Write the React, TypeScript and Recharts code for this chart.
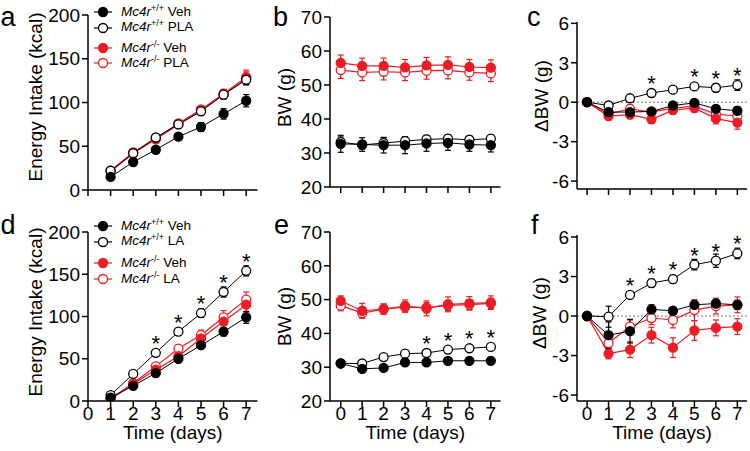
import React from "react";
import { LineChart, Line, XAxis, YAxis, ErrorBar, ReferenceLine } from "recharts";

const RED = "#ed1c24";
const FONT = '"Liberation Sans", Arial, Helvetica, sans-serif';

// x values
const DAYS_INTAKE = [1, 2, 3, 4, 5, 6, 7];
const DAYS_BW = [0, 1, 2, 3, 4, 5, 6, 7];
const X_TICKS = [0, 1, 2, 3, 4, 5, 6, 7];

// y ticks
const INTAKE_TICKS = [0, 50, 100, 150, 200];
const BW_TICKS = [20, 30, 40, 50, 60, 70];
const DBW_TICKS = [-6, -3, 0, 3, 6];

// a: energy intake, PLA
const A_WT_VEH = [15, 32, 46, 61, 72, 87, 102];
const A_WT_VEH_SEM = [2, 3, 3, 4, 5, 6, 7];
const A_WT_PLA = [22, 42, 60, 75, 90, 109, 126];
const A_WT_PLA_SEM = [2, 2, 3, 3, 4, 5, 6];
const A_KO_VEH = [22, 43, 59, 76, 92, 110, 129];
const A_KO_VEH_SEM = [2, 3, 3, 4, 4, 5, 8];
const A_KO_PLA = [21, 42, 58, 75, 91, 109, 128];
const A_KO_PLA_SEM = [2, 3, 3, 4, 4, 5, 7];

// b: body weight, PLA
const B_WT_VEH = [32.7, 32.5, 32.3, 32.3, 32.8, 33.0, 32.5, 32.3];
const B_WT_VEH_SEM = [2.5, 2.0, 2.3, 2.5, 2.3, 2.2, 2.0, 2.0];
const B_WT_PLA = [33.2, 32.4, 32.9, 33.5, 34.0, 34.2, 33.9, 34.2];
const B_WT_PLA_SEM = [1.5, 1.2, 1.5, 1.2, 1.2, 1.2, 1.0, 1.0];
const B_KO_VEH = [56.5, 55.6, 55.6, 55.2, 55.8, 55.9, 55.3, 55.1];
const B_KO_VEH_SEM = [2.3, 2.3, 2.3, 2.3, 2.3, 2.4, 2.2, 2.3];
const B_KO_PLA = [54.4, 53.7, 53.9, 53.7, 54.2, 54.3, 53.7, 53.4];
const B_KO_PLA_SEM = [2.5, 2.4, 2.4, 2.4, 2.5, 2.5, 2.3, 2.4];

// c: delta body weight, PLA
const C_WT_VEH = [0, -0.75, -0.75, -0.7, -0.25, -0.05, -0.5, -0.65];
const C_WT_VEH_SEM = [0, 0.25, 0.2, 0.2, 0.2, 0.2, 0.25, 0.3];
const C_WT_PLA = [0, -0.25, 0.3, 0.7, 0.95, 1.2, 1.1, 1.3];
const C_WT_PLA_SEM = [0, 0.15, 0.15, 0.2, 0.2, 0.2, 0.3, 0.4];
const C_KO_VEH = [0, -1.05, -0.95, -1.3, -0.6, -0.45, -1.25, -1.55];
const C_KO_VEH_SEM = [0, 0.3, 0.3, 0.3, 0.3, 0.3, 0.4, 0.5];
const C_KO_PLA = [0, -0.9, -0.5, -0.75, -0.45, -0.3, -0.9, -1.05];
const C_KO_PLA_SEM = [0, 0.3, 0.3, 0.3, 0.3, 0.3, 0.4, 0.4];
const C_STARS = [3, 5, 6, 7];

// d: energy intake, LA
const D_WT_VEH = [4, 18, 33, 50, 66, 82, 99];
const D_WT_VEH_SEM = [1, 2, 3, 4, 4, 5, 7];
const D_WT_LA = [7, 32, 57, 82, 104, 129, 154];
const D_WT_LA_SEM = [1, 2, 3, 4, 5, 6, 6];
const D_KO_VEH = [2, 20, 37, 53, 74, 94, 114];
const D_KO_VEH_SEM = [1, 2, 3, 4, 6, 8, 9];
const D_KO_LA = [3, 21, 41, 62, 78, 99, 120];
const D_KO_LA_SEM = [1, 2, 3, 4, 6, 8, 9];
const D_STARS = [3, 4, 5, 6, 7];

// e: body weight, LA
const E_WT_VEH = [31.1, 29.5, 29.8, 31.4, 31.4, 31.9, 31.9, 31.9];
const E_WT_VEH_SEM = [0.7, 0.7, 0.7, 0.7, 0.7, 0.7, 0.7, 0.7];
const E_WT_LA = [31.1, 31.1, 33.0, 34.0, 34.2, 35.2, 35.6, 36.0];
const E_WT_LA_SEM = [0.6, 0.6, 0.6, 0.6, 0.6, 0.6, 0.6, 0.6];
const E_KO_VEH = [49.6, 46.7, 47.2, 48.1, 47.4, 48.6, 48.9, 49.1];
const E_KO_VEH_SEM = [1.5, 2.2, 1.5, 1.8, 2.2, 2.2, 2.0, 2.0];
const E_KO_LA = [48.2, 46.0, 47.2, 47.8, 47.6, 48.3, 48.5, 48.9];
const E_KO_LA_SEM = [1.5, 1.5, 1.5, 1.5, 1.5, 1.5, 1.5, 1.5];
const E_STARS = [4, 5, 6, 7];

// f: delta body weight, LA
const F_WT_VEH = [0, -1.45, -1.15, 0.5, 0.4, 0.85, 0.95, 0.85];
const F_WT_VEH_SEM = [0, 1.0, 0.9, 0.35, 0.2, 0.3, 0.3, 0.35];
const F_WT_LA = [0, -0.05, 1.6, 2.5, 2.8, 3.9, 4.2, 4.75];
const F_WT_LA_SEM = [0, 0.8, 0.2, 0.3, 0.3, 0.4, 0.5, 0.4];
const F_KO_VEH = [0, -2.85, -2.55, -1.45, -2.4, -1.1, -0.9, -0.8];
const F_KO_VEH_SEM = [0, 0.4, 0.6, 0.6, 0.75, 0.75, 0.6, 0.6];
const F_KO_LA = [0, -2.05, -0.8, -0.15, -0.3, 0.45, 0.75, 0.85];
const F_KO_LA_SEM = [0, 0.5, 0.5, 0.5, 0.6, 0.8, 0.6, 0.6];
const F_STARS = [2, 3, 4, 5, 6, 7];

function rows(days: number[], s: Record<string, number[]>) {
  return days.map((day, i) => {
    const r: Record<string, number> = { day };
    for (const k of Object.keys(s)) r[k] = s[k][i];
    return r;
  });
}

const dataA = rows(DAYS_INTAKE, { wtVeh: A_WT_VEH, wtVehE: A_WT_VEH_SEM, wtTx: A_WT_PLA, wtTxE: A_WT_PLA_SEM, koVeh: A_KO_VEH, koVehE: A_KO_VEH_SEM, koTx: A_KO_PLA, koTxE: A_KO_PLA_SEM });
const dataB = rows(DAYS_BW, { wtVeh: B_WT_VEH, wtVehE: B_WT_VEH_SEM, wtTx: B_WT_PLA, wtTxE: B_WT_PLA_SEM, koVeh: B_KO_VEH, koVehE: B_KO_VEH_SEM, koTx: B_KO_PLA, koTxE: B_KO_PLA_SEM });
const dataC = rows(DAYS_BW, { wtVeh: C_WT_VEH, wtVehE: C_WT_VEH_SEM, wtTx: C_WT_PLA, wtTxE: C_WT_PLA_SEM, koVeh: C_KO_VEH, koVehE: C_KO_VEH_SEM, koTx: C_KO_PLA, koTxE: C_KO_PLA_SEM });
const dataD = rows(DAYS_INTAKE, { wtVeh: D_WT_VEH, wtVehE: D_WT_VEH_SEM, wtTx: D_WT_LA, wtTxE: D_WT_LA_SEM, koVeh: D_KO_VEH, koVehE: D_KO_VEH_SEM, koTx: D_KO_LA, koTxE: D_KO_LA_SEM });
const dataE = rows(DAYS_BW, { wtVeh: E_WT_VEH, wtVehE: E_WT_VEH_SEM, wtTx: E_WT_LA, wtTxE: E_WT_LA_SEM, koVeh: E_KO_VEH, koVehE: E_KO_VEH_SEM, koTx: E_KO_LA, koTxE: E_KO_LA_SEM });
const dataF = rows(DAYS_BW, { wtVeh: F_WT_VEH, wtVehE: F_WT_VEH_SEM, wtTx: F_WT_LA, wtTxE: F_WT_LA_SEM, koVeh: F_KO_VEH, koVehE: F_KO_VEH_SEM, koTx: F_KO_LA, koTxE: F_KO_LA_SEM });

// draw order: red open, red filled, black open, black filled on top
const SERIES = [
  { key: "koTx", color: RED, open: true, width: 1.2 },
  { key: "koVeh", color: RED, open: false, width: 1.2 },
  { key: "wtTx", color: "#000", open: true, width: 1, starred: true },
  { key: "wtVeh", color: "#000", open: false, width: 1 },
];

const YW = 80;

const makeDot = (color: string, open: boolean, stars: number[]) => (p: any) => {
  const { cx, cy, index, payload } = p;
  if (cx == null || cy == null) return <g key={`e${index}`} />;
  return (
    <g key={`d${index}`}>
      <circle cx={cx} cy={cy} r={4.5} fill={open ? "#fff" : color} stroke={color} strokeWidth={1.3} />
      {stars.includes(payload.day) && (
        <text x={cx} y={cy - 2} textAnchor="middle" fontSize={22} fontFamily={FONT} fill="#000">
          *
        </text>
      )}
    </g>
  );
};

type PanelProps = {
  data: Record<string, number>[];
  x0: number;
  x1: number;
  y0: number;
  y1: number;
  top: number;
  xh: number;
  xDomain: [number, number];
  yDomain: [number, number];
  yTicks: number[];
  yLabel: string;
  yLabelX: number;
  yLabelY: number;
  showX: boolean;
  stars?: number[];
  zero?: boolean;
};

function Panel(p: PanelProps) {
  const left = p.x0 - YW;
  const width = p.x1 - left + 3;
  const height = p.y1 + p.xh - p.top;
  const lx = p.yLabelX - left;
  const ly = p.yLabelY - p.top;
  const axisStyle = { stroke: "#000", strokeWidth: 1.5 };
  const tickStyle = { fill: "#000", fontSize: 19, fontFamily: FONT };
  return (
    <div style={{ position: "absolute", left, top: p.top }}>
      <LineChart width={width} height={height} data={p.data} margin={{ top: p.y0 - p.top, right: 3, bottom: 0, left: 0 }}>
        {p.zero && <ReferenceLine y={0} stroke="#777" strokeDasharray="2 2" strokeWidth={1} />}
        <XAxis
          type="number"
          dataKey="day"
          domain={p.xDomain}
          ticks={X_TICKS}
          interval={0}
          allowDataOverflow
          height={p.xh}
          tickSize={6}
          tickMargin={0}
          axisLine={axisStyle}
          tickLine={axisStyle}
          tick={p.showX ? tickStyle : () => <g />}
          label={
            p.showX
              ? () => (
                  <text x={(p.x0 + p.x1) / 2 - left} y={439 - p.top} textAnchor="middle" fontSize={19} fontFamily={FONT} fill="#000">
                    Time (days)
                  </text>
                )
              : undefined
          }
        />
        <YAxis
          type="number"
          domain={p.yDomain}
          ticks={p.yTicks}
          interval={0}
          allowDataOverflow
          width={YW}
          tickSize={6}
          tickMargin={2}
          axisLine={axisStyle}
          tickLine={axisStyle}
          tick={tickStyle}
          label={() => (
            <text
              x={lx}
              y={ly}
              transform={`rotate(-90 ${lx} ${ly})`}
              textAnchor="middle"
              fontSize={19}
              fontFamily={FONT}
              fill="#000"
            >
              {p.yLabel}
            </text>
          )}
        />
        {SERIES.map((s) => (
          <Line
            key={s.key}
            dataKey={s.key}
            stroke={s.color}
            strokeWidth={s.width}
            type="linear"
            isAnimationActive={false}
            activeDot={false}
            dot={makeDot(s.color, s.open, s.starred ? p.stars ?? [] : [])}
          >
            <ErrorBar dataKey={`${s.key}E`} direction="y" width={3} stroke={s.color} strokeWidth={1.2} isAnimationActive={false} />
          </Line>
        ))}
      </LineChart>
    </div>
  );
}

function Marker({ color, open }: { color: string; open: boolean }) {
  return (
    <svg width={18} height={12} style={{ display: "block" }}>
      <line x1={0} y1={6} x2={18} y2={6} stroke={color} strokeWidth={1.2} />
      <circle cx={9} cy={6} r={4.5} fill={open ? "#fff" : color} stroke={color} strokeWidth={1.3} />
    </svg>
  );
}

function LegendBlock({ centers, tx }: { centers: number[]; tx: string }) {
  const items = [
    { color: "#000", open: false, sup: "+/+", label: "Veh" },
    { color: "#000", open: true, sup: "+/+", label: tx },
    { color: RED, open: false, sup: "-/-", label: "Veh" },
    { color: RED, open: true, sup: "-/-", label: tx },
  ];
  return (
    <>
      {items.map((it, i) => (
        <div
          key={i}
          style={{ position: "absolute", left: 94, top: centers[i] - 8, height: 16, display: "flex", alignItems: "center", fontSize: 13.5, lineHeight: "16px", color: "#000", whiteSpace: "nowrap" }}
        >
          <Marker color={it.color} open={it.open} />
          <span style={{ marginLeft: 9 }}>
            <i>Mc4r</i>
            <span style={{ fontSize: 9, position: "relative", top: -5 }}>{it.sup}</span> {it.label}
          </span>
        </div>
      ))}
    </>
  );
}

const letterStyle = (left: number, top: number): React.CSSProperties => ({
  position: "absolute",
  left,
  top,
  fontSize: 27,
  lineHeight: "27px",
  color: "#000",
});

export default function App() {
  return (
    <div style={{ position: "absolute", left: 0, top: 0, width: 750, height: 451, background: "#fff", fontFamily: FONT, overflow: "hidden" }}>
      <Panel data={dataA} x0={88} x1={257.5} y0={15} y1={190} top={0} xh={12} xDomain={[0, 7.5]} yDomain={[0, 200]} yTicks={INTAKE_TICKS} yLabel="Energy Intake (kcal)" yLabelX={42} yLabelY={97} showX={false} />
      <Panel data={dataB} x0={330} x1={500.5} y0={17} y1={187} top={0} xh={12} xDomain={[-0.5, 7.45]} yDomain={[20, 70]} yTicks={BW_TICKS} yLabel="BW (g)" yLabelX={291} yLabelY={97.5} showX={false} />
      <Panel data={dataC} x0={577} x1={747} y0={22} y1={189} top={0} xh={12} xDomain={[-0.47, 7.45]} yDomain={[-6.6, 6.1]} yTicks={DBW_TICKS} yLabel="ΔBW (g)" yLabelX={548} yLabelY={96} showX={false} stars={C_STARS} zero />
      <Panel data={dataD} x0={88} x1={257.5} y0={232} y1={401} top={220} xh={48} xDomain={[0, 7.5]} yDomain={[0, 200]} yTicks={INTAKE_TICKS} yLabel="Energy Intake (kcal)" yLabelX={42} yLabelY={312} showX stars={D_STARS} />
      <Panel data={dataE} x0={330} x1={500.5} y0={232} y1={401} top={220} xh={48} xDomain={[-0.5, 7.45]} yDomain={[20, 70]} yTicks={BW_TICKS} yLabel="BW (g)" yLabelX={291} yLabelY={316.5} showX stars={E_STARS} />
      <Panel data={dataF} x0={577} x1={747} y0={235} y1={401} top={220} xh={48} xDomain={[-0.47, 7.45]} yDomain={[-6.45, 6.15]} yTicks={DBW_TICKS} yLabel="ΔBW (g)" yLabelX={546} yLabelY={313} showX stars={F_STARS} zero />

      <LegendBlock centers={[12.3, 27.7, 48.3, 63.3]} tx="PLA" />
      <LegendBlock centers={[226, 241.7, 263.3, 279.3]} tx="LA" />

      <div style={letterStyle(0.5, 4)}>a</div>
      <div style={letterStyle(273, 4)}>b</div>
      <div style={letterStyle(527, 4)}>c</div>
      <div style={letterStyle(0.5, 212)}>d</div>
      <div style={letterStyle(274, 212)}>e</div>
      <div style={letterStyle(531, 212)}>f</div>
    </div>
  );
}
